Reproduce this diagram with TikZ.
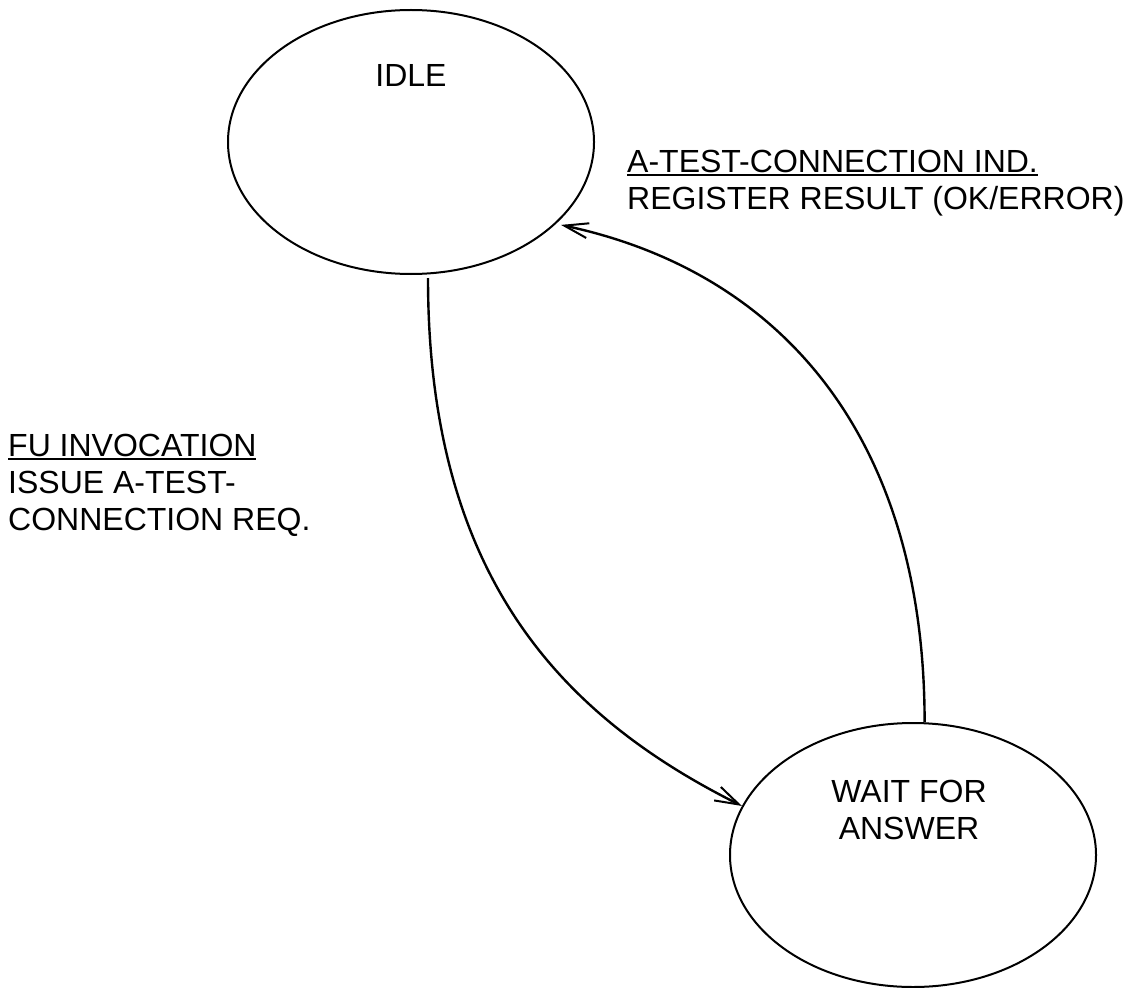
\documentclass[tikz,border=0pt]{standalone}
\usepackage{fontspec}
\setmainfont{Liberation Sans}
\usetikzlibrary{arrows.meta,calc,shapes.geometric}

% underlined text: a 2pt rule just below the baseline
\newsavebox{\ulsave}
\newcommand{\ultext}[1]{\sbox{\ulsave}{#1}\rlap{\rule[-4pt]{\wd\ulsave}{2pt}}\usebox{\ulsave}}

\begin{document}
\begin{tikzpicture}[x=1pt,y=-1pt,
  state/.style={ellipse,draw,line width=2pt,minimum width=366pt,minimum height=264pt,inner sep=0pt},
  txt/.style={inner sep=0pt,font=\fontsize{32}{37}\selectfont},
  conn/.style={line width=2.4pt,-{Straight Barb[length=24pt,width=15pt,line width=2pt]}}]
\useasboundingbox (0,0) rectangle (1134,987);

% states
\node[state] (idle) at (411,142) {};
\node[state] (wait) at (913,855) {};
\node[txt,anchor=base] (idletxt) at (411,87) {IDLE};
\node[txt,anchor=base] (waittxt1) at (909,802) {WAIT FOR};
\node[txt,anchor=base] (waittxt2) at (909,839) {ANSWER};

% transitions
\draw[conn] ($(idle.south)+(17,3)$) .. controls +(0,300) and +(-179,-89.5) .. (wait.164);
\draw[conn] (wait.85) .. controls +(0,-280) and +(225,47.8) .. ($(idle.-29)+(4,2)$);

% transition labels
\node[txt,anchor=base west] (fu1) at (8,456) {\ultext{FU INVOCATION}};
\node[txt,anchor=base west] (fu2) at (8,493) {ISSUE A-TEST-};
\node[txt,anchor=base west] (fu3) at (8,530) {CONNECTION REQ.};
\node[txt,anchor=base west] (ind1) at (627,172) {\ultext{A-TEST-CONNECTION IND.}};
\node[txt,anchor=base west] (ind2) at (627,209) {REGISTER RESULT (OK/ERROR)};
\end{tikzpicture}
\end{document}
